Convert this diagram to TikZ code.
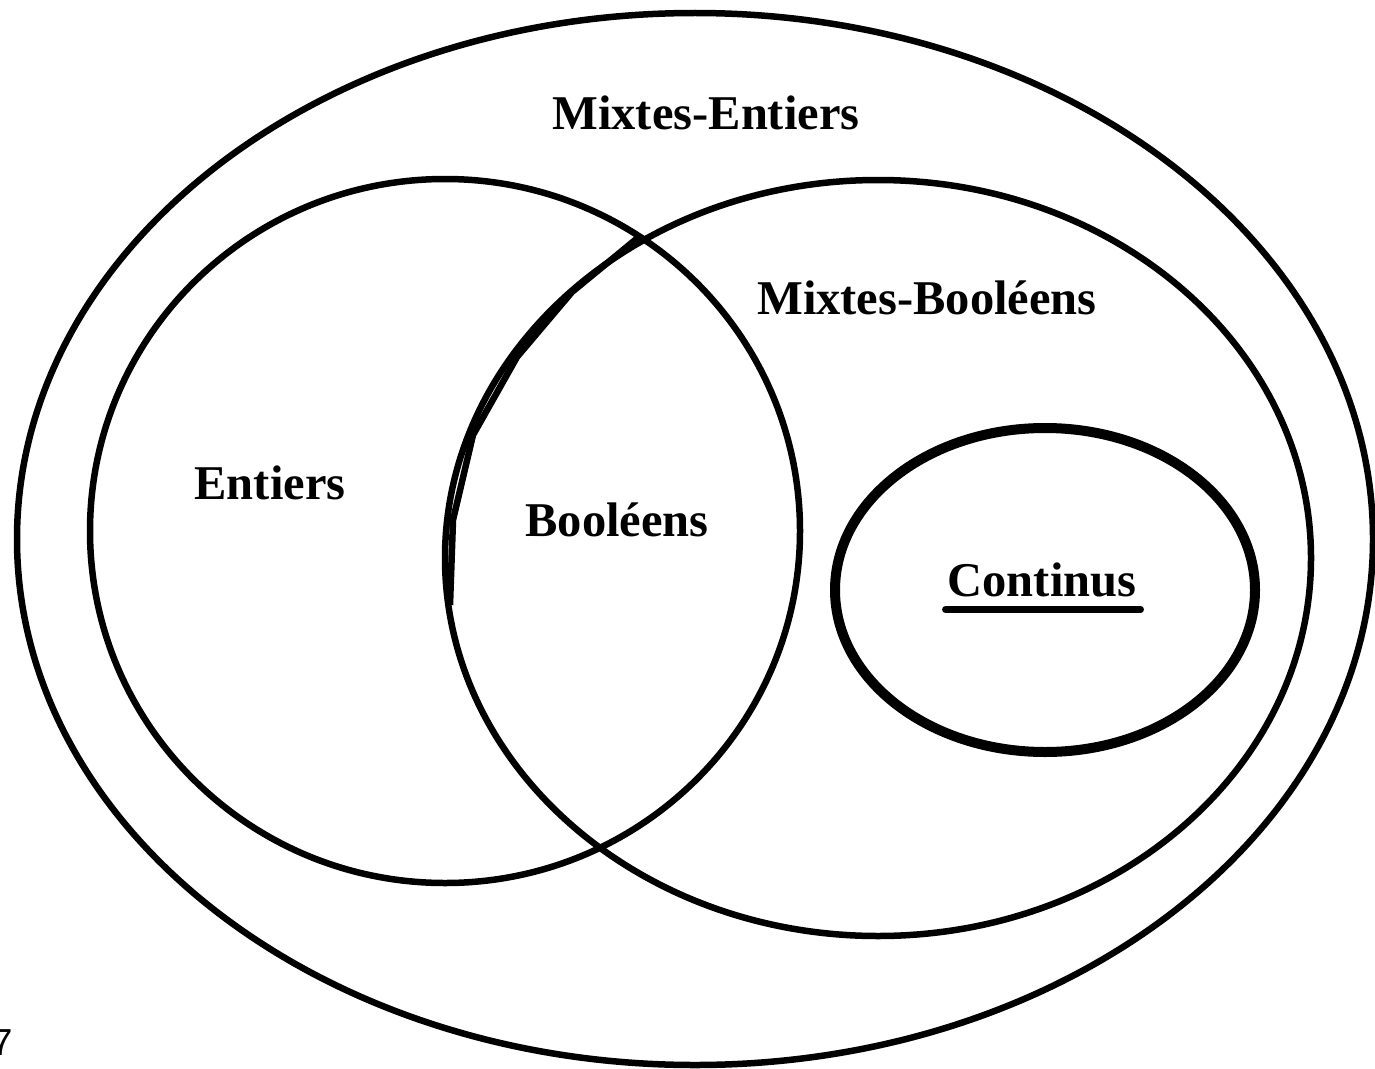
\documentclass[tikz,border=0pt]{standalone}
\usepackage{fontspec}
\setmainfont{Liberation Serif}
\newfontfamily\pagefont{Liberation Sans}
\tikzset{ring/.style = {line width=0.13cm},
         thickring/.style = {line width=0.2cm},
         setname/.style = {font=\fontsize{27.6}{33}\selectfont\bfseries, inner sep=0pt}}

\begin{document}
\begin{tikzpicture}[x=0.02cm, y=-0.02cm]
  \useasboundingbox (0,0) rectangle (1375,1068);
  \draw[ring] (695,539) ellipse [x radius=678, y radius=526];
  \draw[ring] (445,531) ellipse [x radius=355, y radius=352];
  \draw[ring] (878,558) ellipse [x radius=433, y radius=378];
  \draw[ring] (640,236) -- (572,292) -- (517,357) -- (473,435) -- (453,520) -- (450,605);
  \draw[thickring] (1045,590) ellipse [x radius=210, y radius=162];
  \node[setname] (mixent) at (706,113) {Mixtes-Entiers};
  \node[setname] (mixbool) at (927,298) {Mixtes-Booléens};
  \node[setname] (ent) at (270,483) {Entiers};
  \node[setname] (bool) at (617,520) {Booléens};
  \node[setname] (cont) at (1042,580) {Continus};
  \draw[ring, line cap=round] ([shift={(-2,13)}]cont.base west) -- ([shift={(4,13)}]cont.base east);
  \node[inner sep=0pt, anchor=base east, font=\pagefont\fontsize{21.4}{25}\selectfont] (pagenum) at (13,1055) {7};
\end{tikzpicture}
\end{document}
